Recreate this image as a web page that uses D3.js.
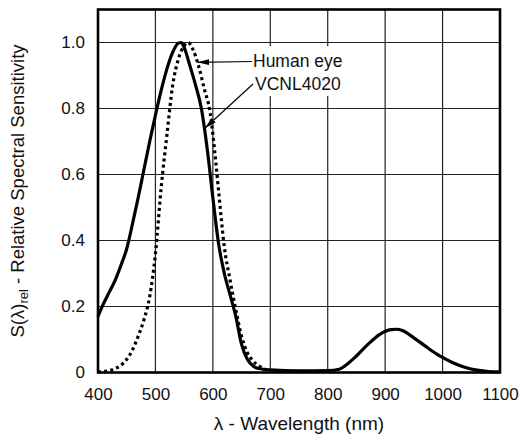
<!DOCTYPE html>
<html>
<head>
<meta charset="utf-8">
<script src="https://cdn.jsdelivr.net/npm/d3@7"></script>
<style>
  html, body { margin: 0; padding: 0; background: #fff; }
  svg { display: block; }
  text { font-family: "Liberation Sans", Arial, Helvetica, sans-serif; fill: #111; }
</style>
</head>
<body>
<svg id="chart" width="527" height="441"></svg>
<script>
// ---- data ----
const xTicks = [400, 500, 600, 700, 800, 900, 1000, 1100];
const xTickLabels = ["400", "500", "600", "700", "800", "900", "1000", "1100"];
const yTicks = [0, 0.2, 0.4, 0.6, 0.8, 1.0];
const yTickLabels = ["0", "0.2", "0.4", "0.6", "0.8", "1.0"];

const vcnlWavelength = [400, 410, 420, 430, 440, 450, 460, 470, 480, 490, 500, 510, 520, 530, 540, 545, 550, 560, 570, 580, 590, 600, 610, 620, 630, 640, 650, 660, 670, 680, 700, 750, 800, 820, 830, 850, 870, 890, 910, 920, 930, 950, 970, 990, 1000, 1020, 1040, 1060, 1080, 1100];
const vcnlValue      = [0.17, 0.21, 0.245, 0.28, 0.325, 0.375, 0.45, 0.53, 0.615, 0.70, 0.78, 0.855, 0.92, 0.97, 0.998, 1.0, 0.985, 0.93, 0.87, 0.80, 0.68, 0.53, 0.39, 0.30, 0.235, 0.17, 0.085, 0.04, 0.02, 0.012, 0.008, 0.005, 0.006, 0.01, 0.02, 0.05, 0.085, 0.115, 0.13, 0.131, 0.127, 0.105, 0.08, 0.056, 0.046, 0.028, 0.015, 0.007, 0.003, 0.002];

const eyeWavelength = [400, 410, 420, 430, 440, 450, 460, 470, 480, 490, 500, 510, 520, 530, 540, 550, 557, 565, 575, 585, 595, 605, 610, 620, 630, 640, 650, 660, 670, 680, 690, 700];
const eyeValue      = [0.002, 0.003, 0.006, 0.012, 0.022, 0.04, 0.068, 0.11, 0.16, 0.23, 0.36, 0.56, 0.72, 0.87, 0.95, 0.99, 1.0, 0.98, 0.93, 0.86, 0.79, 0.64, 0.55, 0.38, 0.28, 0.19, 0.11, 0.06, 0.035, 0.02, 0.01, 0.005];

const xTitle = "λ - Wavelength (nm)";
const labelEye = "Human eye";
const labelVcnl = "VCNL4020";

// ---- layout ----
const svg = d3.select("#chart");
const x = d3.scaleLinear().domain([400, 1100]).range([98, 500]);
const y = d3.scaleLinear().domain([0, 1.1]).range([372.5, 9.5]);

// grid
const grid = svg.append("g");
grid.selectAll("line.v").data(xTicks.slice(1, -1)).join("line")
  .attr("x1", d => x(d)).attr("x2", d => x(d))
  .attr("y1", y(0)).attr("y2", y(1.1))
  .attr("stroke", "#222").attr("stroke-width", 1.2);
grid.selectAll("line.h").data(yTicks.slice(1)).join("line")
  .attr("x1", x(400)).attr("x2", x(1100))
  .attr("y1", d => y(d)).attr("y2", d => y(d))
  .attr("stroke", "#222").attr("stroke-width", 1.2);

// white label box (covers grid)
svg.append("rect").attr("x", 250).attr("y", 46).attr("width", 98).attr("height", 50).attr("fill", "#fff");

// axes (tick labels only)
const xAxis = d3.axisBottom(x).tickValues(xTicks).tickSize(0).tickPadding(15)
  .tickFormat((d, i) => xTickLabels[i]);
svg.append("g").attr("transform", `translate(0,${y(0)})`).call(xAxis)
  .call(g => g.select(".domain").remove())
  .selectAll("text").attr("font-size", 17).attr("font-family", "Liberation Sans, Arial, sans-serif").attr("fill", "#111");

const yAxis = d3.axisLeft(y).tickValues(yTicks).tickSize(0).tickPadding(13)
  .tickFormat((d, i) => yTickLabels[i]);
svg.append("g").attr("transform", `translate(${x(400)},0)`).call(yAxis)
  .call(g => g.select(".domain").remove())
  .selectAll("text").attr("font-size", 17).attr("font-family", "Liberation Sans, Arial, sans-serif").attr("fill", "#111");

// curves
const line = d3.line().curve(d3.curveMonotoneX);
svg.append("path")
  .attr("d", line(eyeWavelength.map((w, i) => [x(w), y(eyeValue[i])])))
  .attr("fill", "none").attr("stroke", "#000").attr("stroke-width", 3.2)
  .attr("stroke-dasharray", "3,3.2");
svg.append("path")
  .attr("d", line(vcnlWavelength.map((w, i) => [x(w), y(vcnlValue[i])])))
  .attr("fill", "none").attr("stroke", "#000").attr("stroke-width", 3.2)
  .attr("stroke-linejoin", "round");

// frame
svg.append("rect").attr("x", x(400)).attr("y", y(1.1))
  .attr("width", x(1100) - x(400)).attr("height", y(0) - y(1.1))
  .attr("fill", "none").attr("stroke", "#000").attr("stroke-width", 2.6);

// arrows
svg.append("defs").append("marker").attr("id", "ah")
  .attr("viewBox", "0 0 12 6").attr("refX", 12).attr("refY", 3)
  .attr("markerWidth", 12).attr("markerHeight", 6).attr("markerUnits", "userSpaceOnUse")
  .attr("orient", "auto")
  .append("path").attr("d", "M0,0 L12,3 L0,6 Z").attr("fill", "#000");

svg.append("line").attr("x1", 252).attr("y1", 61.5).attr("x2", x(573)).attr("y2", y(0.94))
  .attr("stroke", "#000").attr("stroke-width", 1.2).attr("marker-end", "url(#ah)");
svg.append("line").attr("x1", 253).attr("y1", 84).attr("x2", x(586)).attr("y2", y(0.74))
  .attr("stroke", "#000").attr("stroke-width", 1.2).attr("marker-end", "url(#ah)");

svg.append("text").attr("x", 253).attr("y", 67).attr("font-size", 17.5).text(labelEye);
svg.append("text").attr("x", 255).attr("y", 90).attr("font-size", 17.5).text(labelVcnl);

// axis titles
svg.append("text").attr("x", (x(400) + x(1100)) / 2).attr("y", 430)
  .attr("text-anchor", "middle").attr("font-size", 19).text(xTitle);

const yt = svg.append("text")
  .attr("transform", `translate(24,${(y(0) + y(1.1)) / 2}) rotate(-90)`)
  .attr("text-anchor", "middle").attr("font-size", 18.5);
yt.append("tspan").text("S(λ)");
yt.append("tspan").attr("font-size", 13).attr("dy", 4).text("rel");
yt.append("tspan").attr("dy", -4).text(" - Relative Spectral Sensitivity");
</script>
</body>
</html>
